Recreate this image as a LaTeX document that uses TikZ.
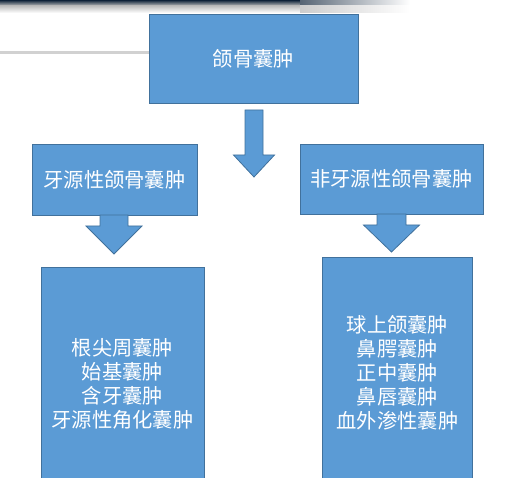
\documentclass[tikz,border=0pt]{standalone}
\usepackage{fontspec}
\newfontfamily\cjk{Noto Sans CJK SC}
\usetikzlibrary{positioning}
\definecolor{boxblue}{HTML}{5B9BD5}
\definecolor{boxedge}{HTML}{41719C}
\definecolor{bandnavy}{HTML}{0E2238}
\newcommand{\blockdown}[6]{% centre x, shaft top, head top, tip, shaft half, head half
  \draw[blockarrow] (#1-#5,#2) -- (#1+#5,#2) -- (#1+#5,#3) -- (#1+#6,#3)
    -- (#1,#4) -- (#1-#6,#3) -- (#1-#5,#3) -- cycle;}
\begin{document}
\begin{tikzpicture}
  [
  x=1pt, y=-1pt,
  font=\cjk\fontsize{20.3}{24}\selectfont,
  cystbox/.style={rectangle, draw=boxedge, fill=boxblue, line width=0.8pt,
    text=white, align=center, inner sep=0pt},
  blockarrow/.style={draw=boxedge, fill=boxblue, line width=0.8pt, line join=miter},
  ]
\useasboundingbox (0,0) rectangle (517,478);

% slide background
\shade[top color=bandnavy, bottom color=black!25] (0,0) rectangle (300,6);
\shade[top color=black!25, bottom color=white] (0,6) rectangle (300,13);
\shade[left color=bandnavy!70, right color=white] (300,0) rectangle (410,6);
\shade[left color=black!20, right color=white] (300,6) rectangle (410,13);
\fill[black!18] (0,51) rectangle (149,54);

\node[cystbox, minimum width=209pt, minimum height=89pt] (jaw) at (253.5,58.5) {颌骨囊肿};
\node[cystbox, minimum width=165pt, minimum height=71pt] (odonto) at (114.5,179.5) {牙源性颌骨囊肿};
\node[cystbox, minimum width=183pt, minimum height=70pt] (nonodonto) at (391.5,179) {非牙源性颌骨囊肿};
\node[cystbox, minimum width=163pt, minimum height=233pt] (odontolist) at (122.5,383.5)
  {根尖周囊肿\\始基囊肿\\含牙囊肿\\牙源性角化囊肿};
\node[cystbox, minimum width=150pt, minimum height=231pt] (nonodontolist) at (397.5,372.5)
  {球上颌囊肿\\鼻腭囊肿\\正中囊肿\\鼻唇囊肿\\血外渗性囊肿};

\blockdown{254}{110}{155}{177}{9}{20.5}
\blockdown{114}{215}{226}{254}{14}{28}
\blockdown{391.5}{214}{225}{252}{14.5}{28}
\end{tikzpicture}
\end{document}
